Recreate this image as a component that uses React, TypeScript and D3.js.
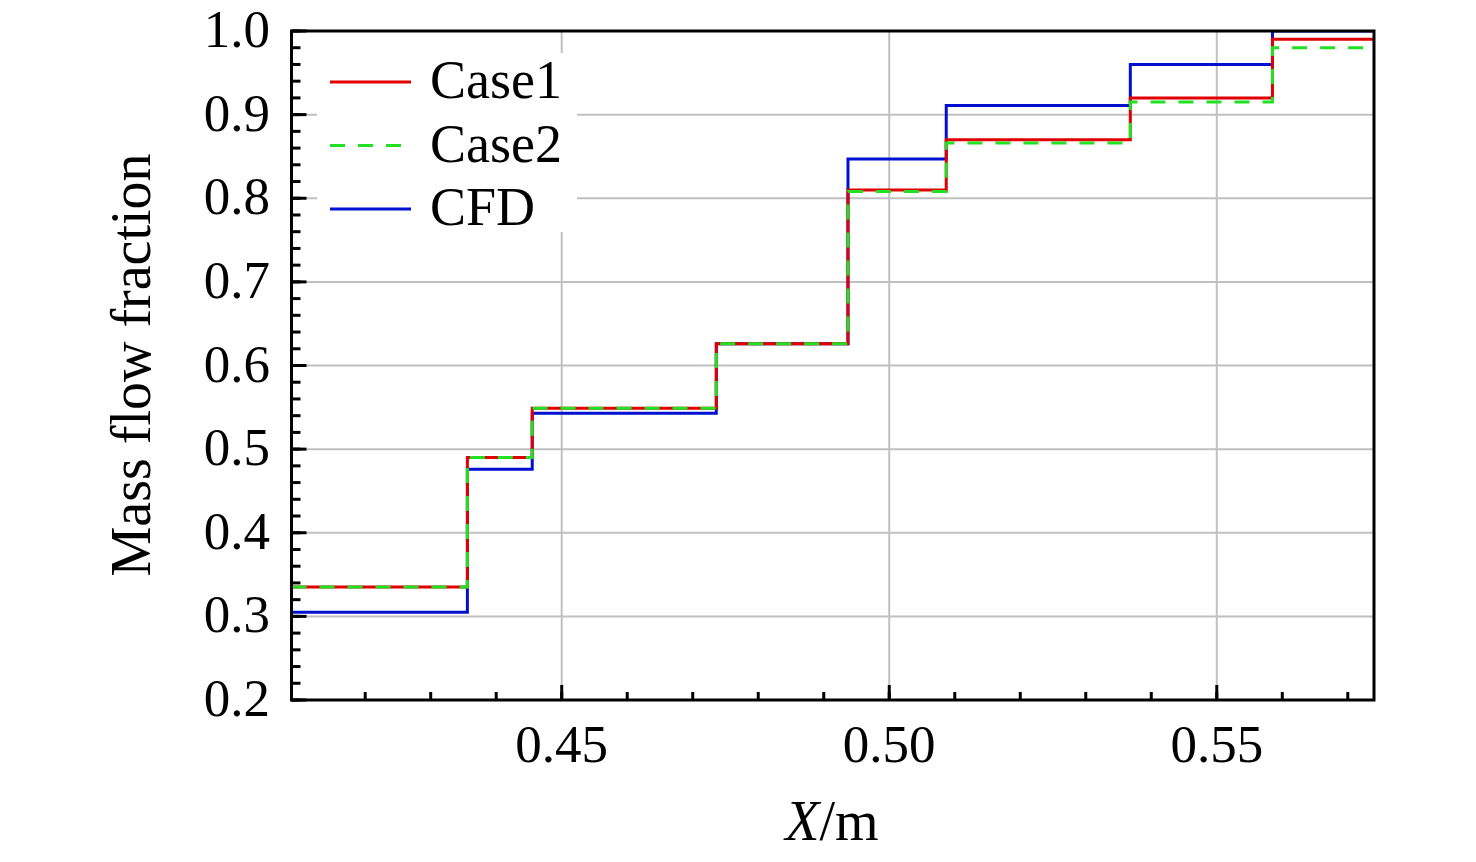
import React, { useEffect } from "react";
import * as d3 from "d3";

const xEdges = [0.40875, 0.4356, 0.4455, 0.4736, 0.4937, 0.5087, 0.5368, 0.5585, 0.574];
const case1 = [0.335, 0.49, 0.549, 0.626, 0.81, 0.87, 0.92, 0.99];
const case2 = [0.335, 0.49, 0.549, 0.626, 0.808, 0.866, 0.915, 0.98];
const cfd = [0.305, 0.476, 0.543, 0.626, 0.847, 0.911, 0.96, 1.0];
const xTicks = [0.45, 0.5, 0.55];
const xTickLabels = ["0.45", "0.50", "0.55"];
const yTicks = [0.2, 0.3, 0.4, 0.5, 0.6, 0.7, 0.8, 0.9, 1.0];
const legendNames = ["Case1", "Case2", "CFD"];

const W = 1476, H = 862;
const L = 291.5, R = 1374, T = 31, B = 700;
const FONT = "'Liberation Serif', 'Times New Roman', serif";

export default function App() {
  useEffect(() => {
    document.body.style.margin = "0";
  }, []);

  const x = d3.scaleLinear().domain([0.40875, 0.574]).range([L, R]);
  const y = d3.scaleLinear().domain([0.2, 1.0]).range([B, T]);

  const line = d3
    .line<[number, number]>()
    .x((d) => x(d[0]))
    .y((d) => y(d[1]))
    .curve(d3.curveStepAfter);

  const pts = (vals: number[]): [number, number][] => {
    const p: [number, number][] = vals.map((v, i) => [xEdges[i], v]);
    p.push([xEdges[xEdges.length - 1], vals[vals.length - 1]]);
    return p;
  };

  const xMinor = d3.range(0.42, 0.5741, 0.01).map((v) => +v.toFixed(3));
  const yMinor = d3.range(0.2, 1.0001, 0.02).map((v) => +v.toFixed(3));

  const series = [
    { name: "CFD", vals: cfd, color: "#0010d0", dash: "" },
    { name: "Case1", vals: case1, color: "#e00000", dash: "" },
    { name: "Case2", vals: case2, color: "#22e022", dash: "15,13" },
  ];
  const legendSeries = [series[1], series[2], series[0]];

  return (
    <svg width={W} height={H} style={{ display: "block", background: "#fff" }}>
      <defs>
        <clipPath id="plot">
          <rect x={L} y={T} width={R - L} height={B - T} />
        </clipPath>
      </defs>
      <g stroke="#c0c0c0" strokeWidth={2}>
        {xTicks.map((t) => (
          <line key={"gx" + t} x1={x(t)} x2={x(t)} y1={T} y2={B} />
        ))}
        {yTicks.slice(1, -1).map((t) => (
          <line key={"gy" + t} x1={L} x2={R} y1={y(t)} y2={y(t)} />
        ))}
      </g>
      <rect x={317} y={53} width={260} height={179} fill="#fff" />
      <g clipPath="url(#plot)" fill="none">
        {series.map((s) => (
          <path
            key={s.name}
            d={line(pts(s.vals)) || ""}
            stroke={s.color}
            strokeWidth={3}
            strokeDasharray={s.dash || undefined}
          />
        ))}
      </g>
      {legendSeries.map((s, i) => (
        <g key={"lg" + i}>
          <line
            x1={330}
            x2={411}
            y1={82 + i * 63.5}
            y2={82 + i * 63.5}
            stroke={s.color}
            strokeWidth={3}
            strokeDasharray={s.dash || undefined}
          />
          <text x={430} y={98 + i * 63.5} fontFamily={FONT} fontSize={54} fill="#000">
            {legendNames[i]}
          </text>
        </g>
      ))}
      <g stroke="#000" strokeWidth={3}>
        {xMinor.map((t) => (
          <line key={"xm" + t} x1={x(t)} x2={x(t)} y1={B} y2={B - 8} />
        ))}
        {xTicks.map((t) => (
          <line key={"xM" + t} x1={x(t)} x2={x(t)} y1={B} y2={B - 15} />
        ))}
        {yMinor.map((t) => (
          <line key={"ym" + t} x1={L} x2={L + 9} y1={y(t)} y2={y(t)} />
        ))}
        {yTicks.map((t) => (
          <line key={"yM" + t} x1={L} x2={L + 15} y1={y(t)} y2={y(t)} />
        ))}
      </g>
      <rect x={L} y={T} width={R - L} height={B - T} fill="none" stroke="#000" strokeWidth={3} />
      <g fontFamily={FONT} fontSize={53} fill="#000">
        {xTicks.map((t, i) => (
          <text key={"xl" + t} x={x(t)} y={762} textAnchor="middle">
            {xTickLabels[i]}
          </text>
        ))}
        {yTicks.map((t) => (
          <text key={"yl" + t} x={270} y={y(t) + 16} textAnchor="end">
            {t.toFixed(1)}
          </text>
        ))}
      </g>
      <text x={832} y={840} textAnchor="middle" fontFamily={FONT} fontSize={56} fill="#000">
        <tspan fontStyle="italic">X</tspan>
        <tspan>/m</tspan>
      </text>
      <text
        transform={`translate(150,365) rotate(-90)`}
        textAnchor="middle"
        fontFamily={FONT}
        fontSize={56}
        fill="#000"
      >
        Mass flow fraction
      </text>
    </svg>
  );
}
